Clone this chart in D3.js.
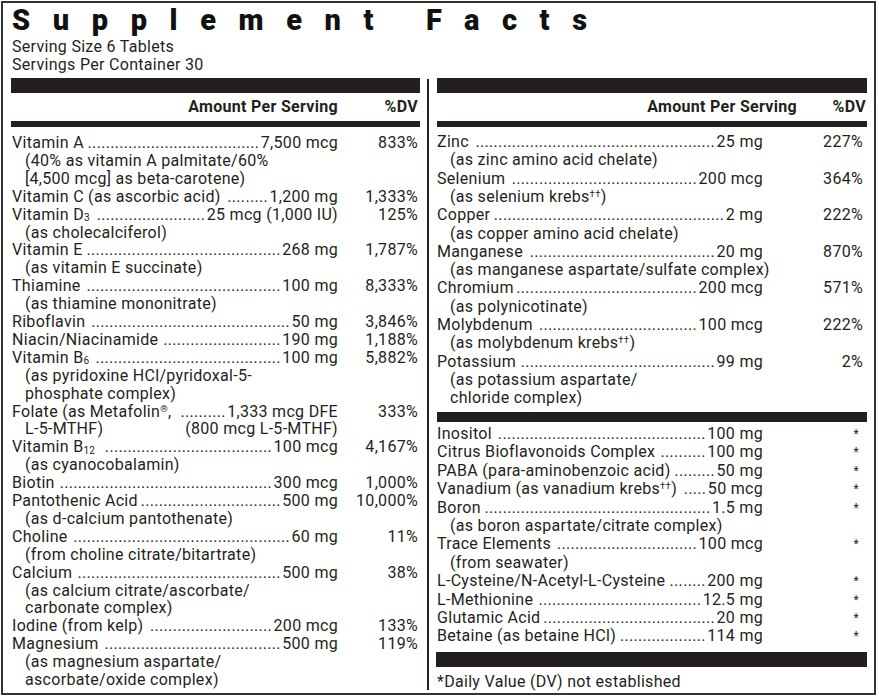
<!DOCTYPE html>
<html><head><meta charset="utf-8">
<script src="https://cdn.jsdelivr.net/npm/d3@7"></script>
<style>body{margin:0;background:#fff} svg{display:block}</style>
</head><body>
<script>
// ---------- DATA ----------
const titleText = "Supplement Facts";
const servingLines = ["Serving Size 6 Tablets", "Servings Per Container 30"];
const headerLabels = ["Amount Per Serving", "%DV"];
const footnote = "*Daily Value (DV) not established";

const leftNames = [
  "Vitamin A", "Vitamin C (as ascorbic acid)", "Vitamin D_{3}", "Vitamin E", "Thiamine",
  "Riboflavin", "Niacin/Niacinamide", "Vitamin B_{6}", "Folate  (as Metafolin^{®},",
  "Vitamin B_{12}", "Biotin", "Pantothenic Acid", "Choline", "Calcium",
  "Iodine (from kelp)", "Magnesium"
];
const leftAmounts = [
  "7,500 mcg", "1,200 mg", "25 mcg (1,000 IU)", "268 mg", "100 mg",
  "50 mg", "190 mg", "100 mg", "1,333 mcg DFE",
  "100 mcg", "300 mcg", "500 mg", "60 mg", "500 mg",
  "200 mcg", "500 mg"
];
const leftDV = [
  "833%", "1,333%", "125%", "1,787%", "8,333%",
  "3,846%", "1,188%", "5,882%", "333%",
  "4,167%", "1,000%", "10,000%", "11%", "38%",
  "133%", "119%"
];
const leftNotes = [
  ["(40% as vitamin A palmitate/60%", "[4,500 mcg] as beta-carotene)"],
  [], ["(as cholecalciferol)"], ["(as vitamin E succinate)"], ["(as thiamine mononitrate)"],
  [], [], ["(as pyridoxine HCl/pyridoxal-5-", "phosphate complex)"], ["L-5-MTHF)"],
  ["(as cyanocobalamin)"], [], ["(as d-calcium pantothenate)"], ["(from choline citrate/bitartrate)"],
  ["(as calcium citrate/ascorbate/", "carbonate complex)"],
  [], ["(as magnesium aspartate/", "ascorbate/oxide complex)"]
];
const leftAmountNotes = ["", "", "", "", "", "", "", "", "(800 mcg L-5-MTHF)", "", "", "", "", "", "", ""];

const mineralNames = ["Zinc", "Selenium", "Copper", "Manganese", "Chromium", "Molybdenum", "Potassium"];
const mineralAmounts = ["25 mg", "200 mcg", "2 mg", "20 mg", "200 mcg", "100 mcg", "99 mg"];
const mineralDV = ["227%", "364%", "222%", "870%", "571%", "222%", "2%"];
const mineralNotes = [
  ["(as zinc amino acid chelate)"], ["(as selenium krebs^{††})"], ["(as copper amino acid chelate)"],
  ["(as manganese aspartate/sulfate complex)"], ["(as polynicotinate)"], ["(as molybdenum krebs^{††})"],
  ["(as potassium aspartate/", "chloride complex)"]
];

const otherNames = [
  "Inositol", "Citrus Bioflavonoids Complex", "PABA (para-aminobenzoic acid)",
  "Vanadium (as vanadium krebs^{††})", "Boron", "Trace Elements",
  "L-Cysteine/N-Acetyl-L-Cysteine", "L-Methionine", "Glutamic Acid", "Betaine (as betaine HCl)"
];
const otherAmounts = ["100 mg", "100 mg", "50 mg", "50 mcg", "1.5 mg", "100 mcg", "200 mg", "12.5 mg", "20 mg", "114 mg"];
const otherDV = ["*", "*", "*", "*", "*", "*", "*", "*", "*", "*"];
const otherNotes = [[], [], [], [], ["(as boron aspartate/citrate complex)"], ["(from seawater)"], [], [], [], []];

// ---------- RENDER ----------
const W = 879, H = 700;
const INK = "#231f20";
const FONT = "Roboto, 'Liberation Sans', sans-serif";
const FS = 16;
const LS = 0.3;

const svg = d3.select("body").append("svg").attr("width", W).attr("height", H)
  .style("font-family", FONT).attr("fill", INK);

svg.append("rect").attr("x", 2).attr("y", 2).attr("width", 873).attr("height", 692)
  .attr("fill", "#fff").attr("stroke", "#333").attr("stroke-width", 2);

svg.append("text").attr("x", 12).attr("y", 30)
  .attr("font-size", 29).attr("font-weight", 900)
  .attr("textLength", 575).attr("lengthAdjust", "spacing")
  .attr("fill", "#111").text(titleText);

svg.selectAll("text.serv").data(servingLines).join("text").attr("class", "serv")
  .attr("x", 12).attr("y", (d, i) => 52 + i * 18).attr("font-size", FS)
  .attr("letter-spacing", LS).text(d => d);

function rich(t, str) {
  const re = /(_|\^)\{([^}]*)\}/g;
  let last = 0, m, shift = 0, marked = false;
  const segs = [];
  while ((m = re.exec(str))) {
    if (m.index > last) segs.push({ s: str.slice(last, m.index), k: "n" });
    segs.push({ s: m[2], k: m[1] === "_" ? "sub" : "sup" });
    last = re.lastIndex;
    marked = true;
  }
  if (last < str.length) segs.push({ s: str.slice(last), k: "n" });
  segs.forEach(sg => {
    const target = sg.k === "sub" ? 1.5 : sg.k === "sup" ? -5 : 0;
    const ts = t.append("tspan").text(sg.s).attr("dy", target - shift);
    if (sg.k !== "n") ts.attr("font-size", sg.k === "sub" ? 10 : 9.5);
    shift = target;
  });
  return marked;
}

// measure dot width
const probe = svg.append("text").attr("font-size", FS).attr("letter-spacing", LS).text("..........");
const dotW = probe.node().getComputedTextLength() / 10;
probe.remove();

function drawBlock(cfg, names, amounts, dvs, notes, amtNotes) {
  const g = svg.append("g").attr("font-size", FS).attr("letter-spacing", LS);
  let idx = 0;
  const rows = names.map((n, i) => {
    const r = { name: n, amount: amounts[i], dv: dvs[i], notes: notes[i] || [],
      amtNote: amtNotes ? amtNotes[i] : "", line: idx };
    idx += 1 + r.notes.length;
    return r;
  });
  const y = d3.scaleLinear().domain([0, idx - 1]).range([cfg.y0, cfg.y0 + (idx - 1) * cfg.step]);
  rows.forEach(r => {
    const yy = y(r.line);
    const nt = g.append("text").attr("x", cfg.x0).attr("y", yy);
    const marked = rich(nt, r.name);
    const nameEnd = cfg.x0 + nt.node().getComputedTextLength() + (marked ? 5 : 2);
    const at = g.append("text").attr("x", cfg.amtX).attr("y", yy).attr("text-anchor", "end").text(r.amount);
    const amtStart = cfg.amtX - at.node().getComputedTextLength();
    const n = Math.max(0, Math.floor((amtStart - 2 - nameEnd) / dotW));
    g.append("text").attr("x", amtStart - 1.5).attr("y", yy).attr("text-anchor", "end").text(".".repeat(n));
    const isStar = r.dv === "*";
    g.append("text").attr("x", isStar ? cfg.dvX - 4 : cfg.dvX).attr("y", isStar ? yy - 1 : yy)
      .attr("text-anchor", "end").attr("font-size", isStar ? 12 : FS).text(r.dv);
    r.notes.forEach((note, k) => {
      const ntt = g.append("text").attr("x", cfg.indent).attr("y", y(r.line + k + 1));
      rich(ntt, note);
    });
    if (r.amtNote) {
      g.append("text").attr("x", cfg.amtX).attr("y", y(r.line + 1)).attr("text-anchor", "end").text(r.amtNote);
    }
  });
}

function header(x, w, amtX, dvX, yBase, thinY) {
  svg.append("rect").attr("x", x).attr("y", 78).attr("width", w).attr("height", 15).attr("fill", INK);
  svg.append("text").attr("x", amtX).attr("y", yBase).attr("text-anchor", "end")
    .attr("font-size", 16).attr("font-weight", 700).attr("letter-spacing", 0.3).text(headerLabels[0]);
  svg.append("text").attr("x", dvX).attr("y", yBase).attr("text-anchor", "end")
    .attr("font-size", 16).attr("font-weight", 700).attr("letter-spacing", 0.3).text(headerLabels[1]);
  svg.append("rect").attr("x", x).attr("y", thinY).attr("width", w).attr("height", 6).attr("fill", INK);
}

header(11, 409, 338, 418, 112, 121);
header(437, 430, 797, 866, 112, 121);

svg.append("line").attr("x1", 428).attr("x2", 428).attr("y1", 79).attr("y2", 690)
  .attr("stroke", INK).attr("stroke-width", 2);

drawBlock({ x0: 12, indent: 25, amtX: 338, dvX: 418, y0: 148, step: 17.9 },
  leftNames, leftAmounts, leftDV, leftNotes, leftAmountNotes);

drawBlock({ x0: 437, indent: 450, amtX: 763, dvX: 863, y0: 147, step: 18.3 },
  mineralNames, mineralAmounts, mineralDV, mineralNotes, null);

svg.append("rect").attr("x", 437).attr("y", 412).attr("width", 430).attr("height", 10).attr("fill", INK);

drawBlock({ x0: 437, indent: 450, amtX: 763, dvX: 863, y0: 439, step: 18.4 },
  otherNames, otherAmounts, otherDV, otherNotes, null);

svg.append("rect").attr("x", 436).attr("y", 652).attr("width", 431).attr("height", 15).attr("fill", INK);

svg.append("text").attr("x", 437).attr("y", 687).attr("font-size", FS).attr("letter-spacing", LS).text(footnote);
</script>
</body></html>
